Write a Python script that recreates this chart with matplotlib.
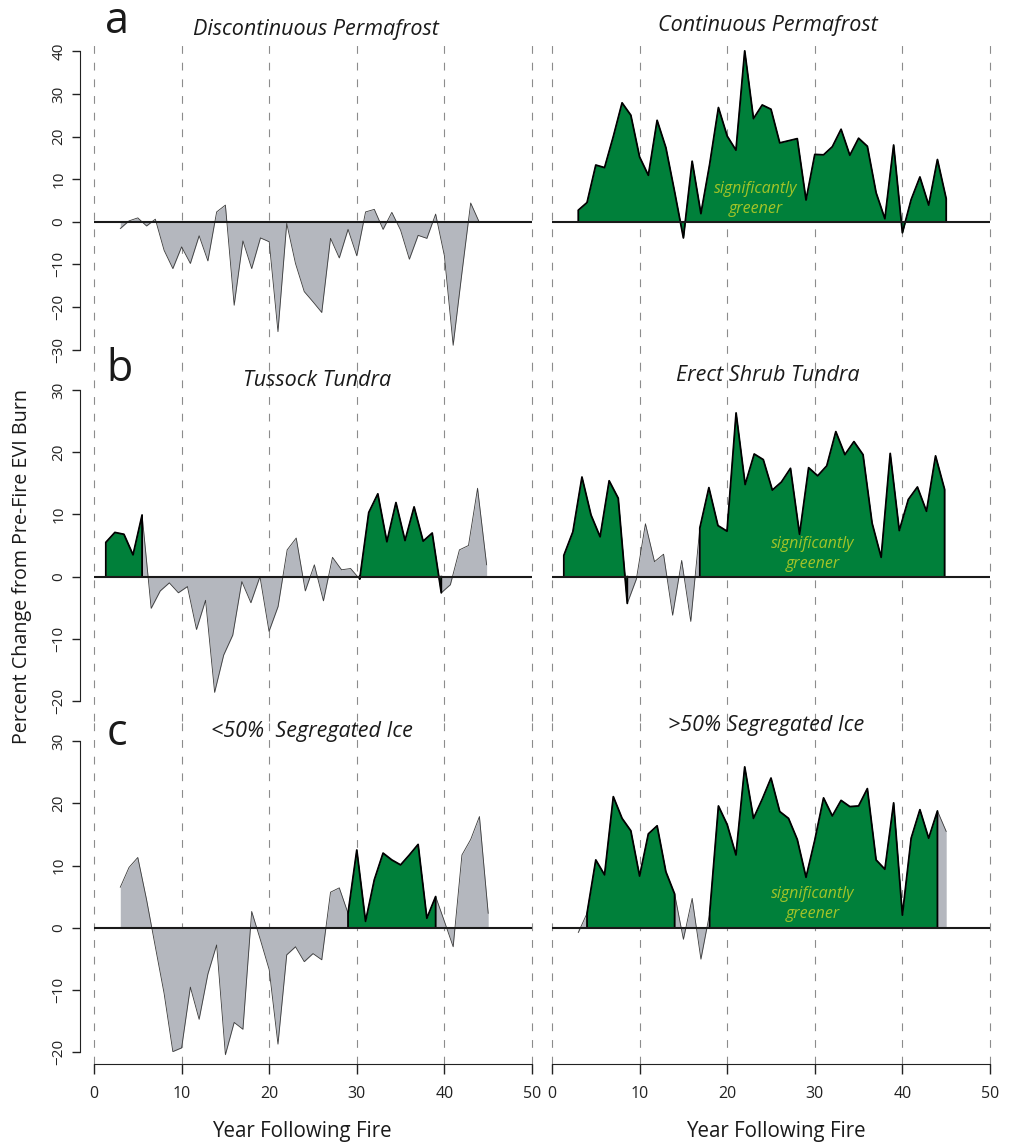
import numpy as np
import matplotlib.pyplot as plt

plt.rcParams['font.family'] = ['Open Sans', 'DejaVu Sans']

W, H = 1010, 1143
GREY = '#b4b7be'
GREEN = '#00803a'
LABEL_GREEN = '#a3c428'

# year following fire for each panel (row b series sit on a slightly stretched grid)
years_disc = list(range(3, 45))
years_cont = list(range(3, 46))
years_b = np.arange(43) * 1.035 + 1.35
years_c = list(range(3, 46))

# percent change from pre-fire EVI burn
disc_perma = [-1.6, 0.2, 0.9, -1.0, 0.6, -6.7, -11.0, -5.9, -9.8, -3.3, -9.2, 2.3, 3.9,
              -19.6, -4.5, -11.0, -3.8, -4.7, -25.8, -0.4, -9.8, -16.4, -18.8, -21.3, -3.9,
              -8.5, -1.8, -8.0, 2.3, 2.9, -1.8, 2.2, -2.0, -8.8, -3.2, -3.9, 1.8, -8.0,
              -29.0, -12.0, 4.4, -0.2]
cont_perma = [2.7, 4.5, 13.3, 12.7, 20.0, 27.9, 25.0, 15.2, 10.9, 23.8, 17.4, 7.0, -3.8,
              14.2, 1.9, 13.5, 26.8, 20.1, 16.8, 40.1, 24.2, 27.4, 26.4, 18.5, 19.0, 19.5,
              5.1, 15.8, 15.7, 17.6, 21.7, 15.6, 19.6, 17.7, 6.8, 0.7, 18.0, -2.6, 5.2,
              10.5, 3.9, 14.6, 5.4]
tussock = [5.5, 7.1, 6.8, 3.5, 9.9, -5.1, -2.3, -1.0, -2.6, -1.6, -8.5, -3.8, -18.6,
           -12.6, -9.4, -0.8, -4.2, 0.0, -8.8, -4.8, 4.3, 6.2, -2.3, 1.9, -3.9, 3.1, 1.1,
           1.3, -0.4, 10.3, 13.3, 5.6, 11.9, 5.8, 11.2, 5.7, 7.0, -2.6, -1.3, 4.3, 5.0,
           14.2, 1.9]
erect_shrub = [3.4, 7.2, 16.0, 9.9, 6.4, 15.4, 12.6, -4.3, -0.4, 8.5, 2.4, 3.6, -6.2, 2.6,
               -7.2, 7.8, 14.3, 8.2, 7.3, 26.3, 14.8, 19.7, 18.8, 13.9, 15.2, 17.4, 6.8,
               17.5, 16.2, 17.8, 23.3, 19.6, 21.7, 19.6, 8.6, 3.1, 19.8, 7.4, 12.4, 14.4,
               10.5, 19.4, 14.0]
low_ice = [6.5, 9.7, 11.3, 4.5, -3.1, -10.6, -20.0, -19.4, -9.6, -14.8, -7.5, -2.8, -20.5,
           -15.3, -16.4, 2.6, -2.0, -6.8, -18.8, -4.4, -3.1, -5.5, -4.2, -5.2, 5.7, 6.4,
           2.3, 12.5, 1.0, 7.7, 12.0, 10.9, 10.1, 11.7, 13.4, 1.5, 5.0, 1.0, -3.1, 11.7,
           14.2, 17.9, 2.3]
high_ice = [-0.8, 2.3, 10.9, 8.5, 21.1, 17.6, 15.6, 8.3, 15.1, 16.4, 9.0, 5.4, -1.9, 4.7,
            -5.1, 2.3, 19.6, 16.6, 11.7, 25.9, 17.6, 20.7, 24.1, 18.7, 17.6, 14.2, 8.1,
            14.1, 20.9, 18.0, 20.5, 19.5, 19.6, 22.4, 10.9, 9.4, 20.1, 2.0, 14.4, 19.0,
            14.4, 18.8, 15.5]

# significantly greener stretches (first, last index into each series)
green_disc = []
green_cont = [(0, 42)]
green_tuss = [(0, 4), (28, 37)]
green_shrub = [(0, 7), (15, 42)]
green_low = [(26, 36)]
green_high = [(1, 11), (15, 41)]

panels = [
    ('Discontinuous Permafrost', years_disc, disc_perma, green_disc),
    ('Continuous Permafrost', years_cont, cont_perma, green_cont),
    ('Tussock Tundra', years_b, tussock, green_tuss),
    ('Erect Shrub Tundra', years_b, erect_shrub, green_shrub),
    ('<50%  Segregated Ice', years_c, low_ice, green_low),
    ('>50% Segregated Ice', years_c, high_ice, green_high),
]

# pixel boxes of the rows and their y ranges
rows = [((40, 370), (-34.8, 42.65), (-30, 40)),
        ((370, 721), (-23.2, 33.2), (-20, 30)),
        ((721, 1064), (-22.0, 33.3), (-20, 30))]
cols = [(94, 532), (552, 990)]
title_pos = [(316, 35), (768, 31), (317, 386), (768, 381), (312, 737), (766, 731)]
note_pos = {1: (23.3, 5.3), 3: (29.8, 3.6), 5: (29.8, 3.8)}


def draw_panel(ax, x, y, spans):
    x = np.asarray(x, float)
    y = np.asarray(y, float)
    for g in range(0, 51, 10):
        ax.axvline(g, color='#8c8c8c', lw=0.8, ls=(0, (7, 8)), zorder=1, clip_on=False)
    ax.fill_between(x, y, 0, color=GREY, lw=0, zorder=2)
    ax.plot(x, y, color='#3a3a3a', lw=0.6, zorder=3)
    for i0, i1 in spans:
        xs, ys = x[i0:i1 + 1], y[i0:i1 + 1]
        ax.fill_between(xs, ys, 0, color=GREEN, lw=0, zorder=4)
        ax.plot(np.r_[xs[0], xs, xs[-1]], np.r_[0, ys, 0], color='black', lw=1.3, zorder=5)
    ax.axhline(0, color='#1a1a1a', lw=1.5, zorder=6)


fig = plt.figure(figsize=(W / 100, H / 100), dpi=100)

for k, (title, x, y, spans) in enumerate(panels):
    r, c = divmod(k, 2)
    (top, bot), ylim, ybounds = rows[r]
    x0, x1 = cols[c]
    ax = fig.add_axes([x0 / W, 1 - bot / H, (x1 - x0) / W, (bot - top) / H])
    ax.set_facecolor('none')
    draw_panel(ax, x, y, spans)
    ax.set_xlim(0, 50)
    ax.set_ylim(*ylim)
    for s in ['top', 'right']:
        ax.spines[s].set_visible(False)

    if c == 0:
        ax.spines['left'].set_position(('outward', 10))
        ax.spines['left'].set_bounds(*ybounds)
        ax.spines['left'].set_color('#222222')
        ax.set_yticks(range(ybounds[0], ybounds[1] + 1, 10))
        ax.tick_params(axis='y', length=6, width=1, pad=4, labelsize=11,
                       labelrotation=90, colors='#222222')
        for lab in ax.get_yticklabels():
            lab.set_va('center')
    else:
        ax.spines['left'].set_visible(False)
        ax.set_yticks([])

    if r == 2:
        ax.spines['bottom'].set_bounds(0, 50)
        ax.spines['bottom'].set_color('#222222')
        ax.set_xticks(range(0, 51, 10))
        ax.tick_params(axis='x', length=7, width=1, pad=9, labelsize=11.5, colors='#222222')
    else:
        ax.spines['bottom'].set_visible(False)
        ax.set_xticks([])

    tx, ty = title_pos[k]
    fig.text(tx / W, 1 - ty / H, title, ha='center', va='baseline',
             fontsize=15.5, style='italic', color='#1a1a1a')

    if k in note_pos:
        nx, ny = note_pos[k]
        ax.text(nx, ny, 'significantly\ngreener', ha='center', va='center',
                fontsize=11.5, style='italic', color=LABEL_GREEN, linespacing=1.3, zorder=7)

for letter, (lx, ly) in zip('abc', [(117, 33), (119, 381), (117, 745)]):
    fig.text(lx / W, 1 - ly / H, letter, ha='center', va='baseline', fontsize=31, color='#1a1a1a')

fig.text(22 / W, 1 - 567 / H, 'Percent Change from Pre-Fire EVI Burn', rotation=90,
         ha='center', va='center', fontsize=14.2, color='#1a1a1a')
for cx in (302, 776):
    fig.text(cx / W, 1 - 1131 / H, 'Year Following Fire', ha='center', va='center',
             fontsize=14.8, color='#1a1a1a')

fig.savefig('out.png', dpi=100)
